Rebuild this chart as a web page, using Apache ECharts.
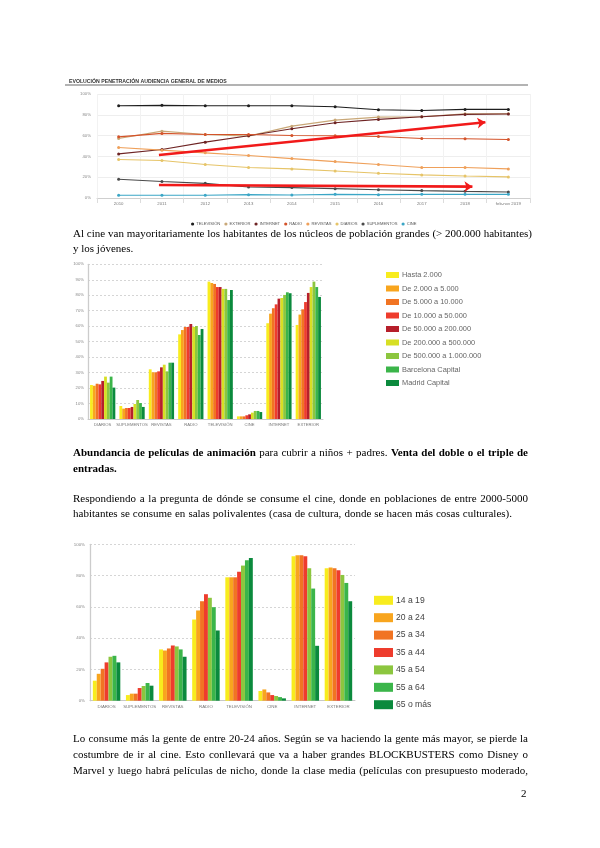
<!DOCTYPE html>
<html><head><meta charset="utf-8">
<script src="https://cdn.jsdelivr.net/npm/echarts@6/dist/echarts.min.js"></script>
<style>
html,body{margin:0;padding:0;background:#fff;}
#chart{position:absolute;left:0;top:0;width:600px;height:848px;}
.ln{position:absolute;left:73px;font-family:"Liberation Serif","Times New Roman",serif;font-size:11px;line-height:15px;color:#000;white-space:nowrap;}
</style></head><body>
<div id="chart"></div>
<div class="ln" data-w="459" style="top:225.6px">Al cine van mayoritariamente los habitantes de los núcleos de población grandes (&gt; 200.000 habitantes)</div>
<div class="ln" style="top:240.6px">y los jóvenes.</div>
<div class="ln" data-w="455" style="top:445.3px"><b>Abundancia de películas de animación</b> para cubrir a niños + padres. <b>Venta del doble o el triple de</b></div>
<div class="ln" style="top:460.6px"><b>entradas.</b></div>
<div class="ln" data-w="455" style="top:490.6px">Respondiendo a la pregunta de dónde se consume el cine, donde en poblaciones de entre 2000-5000</div>
<div class="ln" data-w="439" style="top:506.3px">habitantes se consume en salas polivalentes (casa de cultura, donde se hacen más cosas culturales).</div>
<div class="ln" data-w="455" style="top:731.3px">Lo consume más la gente de entre 20-24 años. Según se va haciendo la gente más mayor, se pierde la</div>
<div class="ln" data-w="455" style="top:747.3px">costumbre de ir al cine. Esto conllevará que va a haber grandes BLOCKBUSTERS como Disney o</div>
<div class="ln" data-w="455" style="top:763px">Marvel y luego habrá películas de nicho, donde la clase media (películas con presupuesto moderado,</div>
<div class="ln" style="top:786px;left:521px">2</div>
<script>
// ---------- Chart 1: evolution of media penetration ----------
const years = ['2010','2011','2012','2013','2014','2015','2016','2017','2018','feb-nov 2019'];
const mediaNames = ['TELEVISIÓN','EXTERIOR','INTERNET','RADIO','REVISTAS','DIARIOS','SUPLEMENTOS','CINE'];
const television = [88.7, 89.1, 88.7, 88.7, 88.7, 87.8, 84.9, 84.2, 85.2, 85.2];
const exterior   = [57.2, 64.3, 61.1, 59.5, 69.1, 74.9, 77.8, 78.1, 81.0, 81.0];
const internet   = [42.4, 46.6, 53.7, 59.8, 66.6, 72.3, 75.6, 78.1, 80.4, 80.7];
const radio      = [58.8, 62.1, 61.1, 61.1, 60.1, 59.8, 59.2, 57.2, 56.9, 56.3];
const revistas   = [48.6, 46.0, 43.4, 40.8, 37.9, 35.0, 32.2, 29.3, 29.3, 28.0];
const diarios    = [37.0, 36.0, 32.2, 29.3, 28.0, 26.0, 23.8, 22.2, 21.2, 20.3];
const suplementos= [18.0, 15.8, 14.1, 10.6, 10.0, 9.0, 8.0, 7.1, 6.4, 5.8];
const cine       = [2.6, 2.6, 2.6, 3.2, 2.9, 3.5, 3.2, 3.5, 3.5, 3.5];
const chart1Series = [television, exterior, internet, radio, revistas, diarios, suplementos, cine];
const chart1Colors = ['#1e1e1e','#c9a878','#6e2424','#d4532a','#efa05a','#e6c468','#4a4a4a','#3ba6c6'];
// annotation arrows (x in category index units, y in %)
const arrowUp   = [[0.93, 41.3], [8.47, 72.8]];
const arrowDown = [[0.93, 12.5], [8.17, 10.9]];
const pctTicks1 = ['0%','20%','40%','60%','80%','100%'];

// ---------- Chart 2: by population size ----------
const mediaCats = ['DIARIOS','SUPLEMENTOS','REVISTAS','RADIO','TELEVISIÓN','CINE','INTERNET','EXTERIOR'];
const popGroups = ['Hasta 2.000','De 2.000 a 5.000','De 5.000 a 10.000','De 10.000 a 50.000','De 50.000 a 200.000','De 200.000 a 500.000','De 500.000 a 1.000.000','Barcelona Capital','Madrid Capital'];
const hasta2000   = [22.0, 8.4, 32.1, 54.7, 88.8, 1.7, 61.9, 60.8];
const de2a5       = [21.5, 6.7, 30.2, 57.5, 87.9, 1.7, 68.1, 67.5];
const de5a10      = [22.8, 7.1, 30.2, 59.5, 87.3, 1.7, 71.6, 70.9];
const de10a50     = [22.4, 7.1, 30.8, 59.5, 85.3, 2.4, 74.1, 75.6];
const de50a200    = [24.6, 7.8, 33.4, 61.4, 85.3, 3.0, 77.8, 81.5];
const de200a500   = [27.4, 9.7, 35.1, 59.5, 84.1, 4.1, 78.2, 85.3];
const de500a1000  = [23.5, 12.3, 30.8, 60.1, 84.1, 5.2, 80.2, 88.8];
const barcelona   = [27.4, 10.3, 36.4, 54.3, 76.9, 5.2, 81.9, 85.3];
const madrid      = [20.3, 7.8, 36.4, 58.2, 83.4, 4.5, 81.3, 78.9];
const popSeries = [hasta2000, de2a5, de5a10, de10a50, de50a200, de200a500, de500a1000, barcelona, madrid];
const popColors = ['#f8ec1e','#f8a51e','#f17423','#ee3c2d','#b61f2b','#d7df24','#8cc63f','#3bb54a','#0b8a3d'];

// ---------- Chart 3: by age ----------
const ageGroups = ['14 a 19','20 a 24','25 a 34','35 a 44','45 a 54','55 a 64','65 o más'];
const age14_19 = [12.8, 3.6, 32.8, 51.9, 78.9, 6.2, 92.4, 84.7];
const age20_24 = [17.2, 4.5, 32.1, 57.7, 78.9, 7.2, 93.0, 85.1];
const age25_34 = [20.4, 4.5, 33.4, 63.6, 78.9, 5.3, 93.0, 84.7];
const age35_44 = [24.5, 8.1, 35.3, 68.1, 82.4, 3.6, 92.4, 83.4];
const age45_54 = [28.1, 9.4, 34.7, 65.8, 86.4, 3.0, 84.7, 80.4];
const age55_64 = [28.7, 11.3, 32.8, 59.8, 89.8, 2.3, 71.7, 75.3];
const age65    = [24.5, 9.6, 28.1, 44.9, 91.3, 1.5, 35.1, 63.6];
const ageSeries = [age14_19, age20_24, age25_34, age35_44, age45_54, age55_64, age65];
const ageColors = ['#f8ec1e','#f8a51e','#f17423','#ee3c2d','#8cc63f','#3bb54a','#0b8a3d'];

const sans = '"Liberation Sans", Arial, sans-serif';
const chart = echarts.init(document.getElementById('chart'), null, {renderer:'canvas'});

const series = [];
chart1Series.forEach((d,i)=>series.push({
  name: mediaNames[i], type:'line', xAxisIndex:0, yAxisIndex:0, data:d,
  symbol:'circle', symbolSize:3, color: chart1Colors[i],
  lineStyle:{width:1.1, color: chart1Colors[i]}, itemStyle:{color:chart1Colors[i]},
  emphasis:{disabled:true}, silent:true, z:3
}));
series.push({
  type:'lines', coordinateSystem:'cartesian2d', xAxisIndex:1, yAxisIndex:0,
  data:[{coords:arrowUp},{coords:arrowDown}],
  symbol:['none','arrow'], symbolSize:[0,8],
  lineStyle:{color:'#f11a1a', width:2.6, opacity:1}, silent:true, z:5
});
popSeries.forEach((d,i)=>series.push({
  name: popGroups[i], type:'bar', xAxisIndex:2, yAxisIndex:1, data:d,
  barGap:'0%', barCategoryGap:'14%', itemStyle:{color:popColors[i]}, silent:true
}));
ageSeries.forEach((d,i)=>series.push({
  name: ageGroups[i], type:'bar', xAxisIndex:3, yAxisIndex:2, data:d,
  barGap:'0%', barCategoryGap:'17%', itemStyle:{color:ageColors[i]}, silent:true
}));

const pctFmt = v => v + '%';
const option = {
  animation:false,
  backgroundColor:'transparent',
  textStyle:{fontFamily:sans},
  title:{text:'EVOLUCIÓN PENETRACIÓN AUDIENCIA GENERAL DE MEDIOS', left:64, top:74,
    textStyle:{fontSize:5.2, fontWeight:'bold', color:'#333', fontFamily:sans}},
  graphic:[
    {type:'line', shape:{x1:65,y1:85,x2:528,y2:85}, style:{stroke:'#9a9a9a', lineWidth:1.5}, silent:true}
  ],
  legend:[
    {data:mediaNames, left:186, top:217, orient:'horizontal', icon:'circle', itemWidth:3.2, itemHeight:3.2, itemGap:4,
     textStyle:{fontSize:4.1, color:'#555', padding:[0,0,0,-3]}, selectedMode:false},
    {data:popGroups, left:381, top:266.5, orient:'vertical', icon:'rect', itemWidth:13, itemHeight:6, itemGap:6.5,
     textStyle:{fontSize:7.4, color:'#666', padding:[0,0,0,-2]}, selectedMode:false},
    {data:ageGroups, left:369, top:590.8, orient:'vertical', icon:'rect', itemWidth:19, itemHeight:9, itemGap:8.4,
     textStyle:{fontSize:8.6, color:'#444', padding:[0,0,0,-2]}, selectedMode:false}
  ],
  grid:[
    {left:97, top:94, width:433, height:104, containLabel:false, outerBoundsMode:'none'},
    {left:88, top:264.3, width:235, height:154.7, containLabel:false, outerBoundsMode:'none'},
    {left:90, top:544.3, width:265, height:156.4, containLabel:false, outerBoundsMode:'none'}
  ],
  xAxis:[
    {type:'category', gridIndex:0, data:years, boundaryGap:true,
     axisLine:{lineStyle:{color:'#cfcfcf'}}, axisTick:{show:true, length:5, lineStyle:{color:'#dcdcdc'}},
     splitLine:{show:true, lineStyle:{color:'#f2f2f2'}},
     axisLabel:{fontSize:4.3, color:'#777', margin:4}},
    {type:'value', gridIndex:0, min:-0.5, max:9.5, show:false},
    {type:'category', gridIndex:1, data:mediaCats,
     axisLine:{lineStyle:{color:'#c8c8c8'}}, axisTick:{show:false},
     axisLabel:{fontSize:4.2, color:'#777', margin:4, interval:0}},
    {type:'category', gridIndex:2, data:mediaCats,
     axisLine:{lineStyle:{color:'#c8c8c8'}}, axisTick:{show:false},
     axisLabel:{fontSize:4.4, color:'#777', margin:4, interval:0}}
  ],
  yAxis:[
    {type:'value', gridIndex:0, min:0, max:100, interval:20,
     axisLine:{show:false}, axisTick:{show:false},
     splitLine:{lineStyle:{color:'#eeeeee'}},
     axisLabel:{fontSize:4.3, color:'#888', margin:6, formatter:v=>pctTicks1[v/20]}},
    {type:'value', gridIndex:1, min:0, max:100, interval:10,
     axisLine:{show:true, lineStyle:{color:'#cccccc', width:1.3}}, axisTick:{show:false},
     splitLine:{lineStyle:{color:'#d5d5d5', type:[2,2]}},
     axisLabel:{fontSize:4.2, color:'#888', margin:4, formatter:pctFmt}},
    {type:'value', gridIndex:2, min:0, max:100, interval:20,
     axisLine:{show:true, lineStyle:{color:'#cccccc', width:1.3}}, axisTick:{show:false},
     splitLine:{lineStyle:{color:'#d5d5d5', type:[2,2]}},
     axisLabel:{fontSize:4.4, color:'#888', margin:5, formatter:pctFmt}}
  ],
  series: series
};
chart.setOption(option);

// justify text lines to the reference column width
document.querySelectorAll('.ln').forEach(el=>{
  const t = parseFloat(el.dataset.w||0); if(!t) return;
  const w = el.getBoundingClientRect().width;
  const n = (el.textContent.match(/ /g)||[]).length;
  const extra = t - w;
  if (extra >= 0) el.style.wordSpacing = (extra/n)+'px';
  else { el.style.transformOrigin='0 0'; el.style.transform='scaleX('+(t/w)+')'; }
});
</script>
</body></html>
